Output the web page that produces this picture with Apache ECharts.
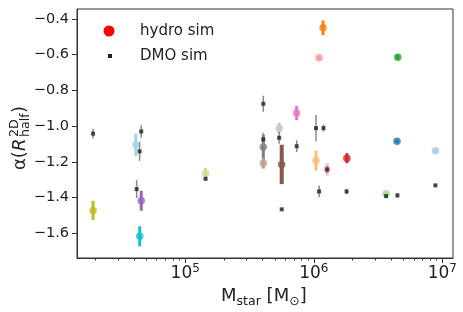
<!DOCTYPE html>
<html>
<head>
<meta charset="utf-8">
<script src="https://cdn.jsdelivr.net/npm/echarts@6/dist/echarts.min.js"></script>
<style>html,body{margin:0;padding:0;background:#fff}#c{width:463px;height:312px}</style>
</head>
<body>
<div id="c"></div>
<script>
// ---------- DATA ----------
// hydro sim: stellar mass [Msun], alpha, error
var hydroMass  = [1.92e4, 4.13e4, 4.55e4, 4.43e4, 1.44e5, 4.05e5, 4.05e5, 5.38e5, 5.63e5, 7.36e5, 1.04e6, 1.27e6, 1.81e6, 1.18e6, 1.10e6, 4.50e6, 4.44e6, 8.83e6, 3.65e6];
var hydroAlpha = [-1.471, -1.104, -1.417, -1.616, -1.263, -1.117, -1.207, -1.011, -1.214, -0.927, -1.192, -1.242, -1.179, -0.450, -0.618, -0.615, -1.085, -1.137, -1.378];
var hydroErr   = [0.054, 0.063, 0.056, 0.056, 0.030, 0.070, 0.030, 0.030, 0.110, 0.040, 0.056, 0.034, 0.028, 0.041, 0.010, 0.012, 0.008, 0.008, 0.008];
// DMO sim
var dmoMass  = [1.92e4, 4.55e4, 4.42e4, 4.19e4, 1.44e5, 4.05e5, 4.05e5, 5.38e5, 7.36e5, 5.63e5, 1.04e6, 1.19e6, 1.27e6, 1.10e6, 1.80e6, 3.65e6, 4.47e6, 8.83e6];
var dmoAlpha = [-1.042, -1.030, -1.141, -1.352, -1.294, -0.875, -1.074, -1.065, -1.112, -1.465, -1.011, -1.011, -1.242, -1.365, -1.365, -1.391, -1.387, -1.331];
var dmoErr   = [0.027, 0.035, 0.053, 0.050, 0.010, 0.045, 0.037, 0.033, 0.033, 0.005, 0.073, 0.020, 0.020, 0.033, 0.015, 0.010, 0.012, 0.008];
// axis ticks
var xMajorExp = [5, 6, 7];
var yTicks = [-1.6, -1.4, -1.2, -1.0, -0.8, -0.6, -0.4];
var legendNames = ['hydro sim', 'DMO sim'];

// ---------- STYLE ----------
var hydroColors = ['#bcbd22','#9edae5','#9467bd','#17becf','#dbdb8d','#7f7f7f','#c49c94','#c7c7c7','#8c564b','#e377c2','#ffbb78','#f7b6d2','#d62728','#ff7f0e','#ff9896','#2ca02c','#1f77b4','#aec7e8','#98df8a'];
var hydroBarWidth = [3,3,3,3,3,3,3,3,4,3,3,3,3,3,3,3,3,3,3];
var FONT = 'DejaVu Sans';
var X_MIN = Math.log10(1.44e4), X_MAX = Math.log10(1.21e7);
var Y_MIN = -1.737, Y_MAX = -0.345;

var minorVals = [];
for (var e = 4; e <= 7; e++) for (var k = 2; k <= 9; k++) {
  var lv = e + Math.log10(k);
  if (lv > X_MIN && lv < X_MAX) minorVals.push(lv);
}

var hydroPts = hydroMass.map(function (m, i) {
  return { value: [Math.log10(m), hydroAlpha[i]], itemStyle: { color: hydroColors[i] } };
});
var hydroBars = hydroMass.map(function (m, i) {
  return [Math.log10(m), hydroAlpha[i] - hydroErr[i], hydroAlpha[i] + hydroErr[i], i];
});
var dmoPts = dmoMass.map(function (m, i) { return [Math.log10(m), dmoAlpha[i]]; });
var dmoBars = dmoMass.map(function (m, i) {
  return [Math.log10(m), dmoAlpha[i] - dmoErr[i], dmoAlpha[i] + dmoErr[i]];
});

function barRender(colorFn, widthFn) {
  return function (params, api) {
    var x = api.value(0);
    var p1 = api.coord([x, api.value(1)]);
    var p2 = api.coord([x, api.value(2)]);
    var i = params.dataIndex;
    return { type: 'line', shape: { x1: p1[0], y1: p1[1], x2: p2[0], y2: p2[1] },
             style: { stroke: colorFn(i), lineWidth: widthFn(i) } };
  };
}

var chart = echarts.init(document.getElementById('c'), null, { renderer: 'canvas' });
var axisColor = '#333';
var option = {
  animation: false,
  grid: { left: 77, right: 10, top: 9, bottom: 54, show: true, borderColor: axisColor, borderWidth: 1 },
  xAxis: [{
    type: 'value', min: X_MIN, max: X_MAX,
    axisLine: { lineStyle: { color: axisColor, width: 1 } },
    splitLine: { show: false },
    axisTick: { customValues: xMajorExp, length: 5, lineStyle: { color: axisColor } },
    axisLabel: {
      customValues: xMajorExp, margin: 5,
      formatter: function (v) { return '{b|10}{s|' + Math.round(v) + '}'; },
      rich: {
        b: { fontSize: 17, fontFamily: FONT, color: '#222', padding: [5, 0, 0, 0], lineHeight: 17 },
        s: { fontSize: 12, fontFamily: FONT, color: '#222', verticalAlign: 'top', lineHeight: 12 }
      }
    }
  }, {
    type: 'value', min: X_MIN, max: X_MAX, position: 'bottom',
    axisLine: { show: false }, splitLine: { show: false },
    axisTick: { customValues: minorVals, length: 2.5, lineStyle: { color: axisColor } },
    axisLabel: { show: false }
  }],
  yAxis: {
    type: 'value', min: Y_MIN, max: Y_MAX,
    axisLine: { show: true, lineStyle: { color: axisColor, width: 1 } },
    splitLine: { show: false },
    axisTick: { show: true, customValues: yTicks, length: 5, lineStyle: { color: axisColor } },
    axisLabel: {
      customValues: yTicks, margin: 8, fontSize: 14.5, fontFamily: FONT, color: '#222',
      formatter: function (v) { return (v < 0 ? '\u2212' : '') + Math.abs(v).toFixed(1); }
    }
  },
  series: [
    { type: 'custom', name: legendNames[0] + ' err', xAxisIndex: 0, data: hydroBars, encode: { x: 0, y: [1, 2] }, z: 2,
      renderItem: barRender(function (i) { return hydroColors[hydroBars[i][3]]; }, function (i) { return hydroBarWidth[i]; }) },
    { type: 'scatter', name: legendNames[0], data: hydroPts, symbol: 'circle', symbolSize: 7.5, z: 3 },
    { type: 'custom', name: legendNames[1] + ' err', data: dmoBars, encode: { x: 0, y: [1, 2] }, z: 4,
      renderItem: barRender(function () { return '#8a8a8a'; }, function () { return 1.5; }) },
    { type: 'scatter', name: legendNames[1], data: dmoPts, symbol: 'rect', symbolSize: 4, itemStyle: { color: '#222' }, z: 5 }
  ],
  graphic: [
    { type: 'circle', shape: { cx: 109, cy: 31, r: 5.5 }, style: { fill: '#ff0000' } },
    { type: 'rect', shape: { x: 108, y: 54, width: 4, height: 4 }, style: { fill: '#222' } },
    { type: 'text', x: 140, y: 31, style: { text: legendNames[0], font: '15px "DejaVu Sans"', fill: '#222', verticalAlign: 'middle', align: 'left' } },
    { type: 'text', x: 140, y: 56, style: { text: legendNames[1], font: '15px "DejaVu Sans"', fill: '#222', verticalAlign: 'middle', align: 'left' } },
    // x-axis title: M_star [M_sun]
    { type: 'group', x: 221, y: 0, children: [
      { type: 'text', x: 0, y: 296, style: { text: 'M', font: '18px "DejaVu Sans"', fill: '#222', verticalAlign: 'middle' } },
      { type: 'text', x: 15.5, y: 301.5, style: { text: 'star', font: '12.6px "DejaVu Sans"', fill: '#222', verticalAlign: 'middle' } },
      { type: 'text', x: 39.9, y: 296, style: { text: ' [M', font: '18px "DejaVu Sans"', fill: '#222', verticalAlign: 'middle' } },
      { type: 'text', x: 68.2, y: 301.5, style: { text: '\u2299', font: '12.6px "DejaVu Sans"', fill: '#222', verticalAlign: 'middle' } },
      { type: 'text', x: 78.8, y: 296, style: { text: ']', font: '18px "DejaVu Sans"', fill: '#222', verticalAlign: 'middle' } }
    ] },
    // y-axis title: alpha(R^{2D}_{half})
    { type: 'group', x: 27, y: 170, rotation: Math.PI / 2, children: [
      { type: 'text', x: 0, y: -6.5, style: { text: '\u03b1(', font: '18px "DejaVu Sans"', fill: '#222', verticalAlign: 'middle' } },
      { type: 'text', x: 19, y: -6.5, style: { text: 'R', font: 'italic 18px "DejaVu Sans"', fill: '#222', verticalAlign: 'middle' } },
      { type: 'text', x: 33, y: -12.5, style: { text: '2D', font: '12.6px "DejaVu Sans"', fill: '#222', verticalAlign: 'middle' } },
      { type: 'text', x: 33, y: -1, style: { text: 'half', font: '12.6px "DejaVu Sans"', fill: '#222', verticalAlign: 'middle' } },
      { type: 'text', x: 57, y: -6.5, style: { text: ')', font: '18px "DejaVu Sans"', fill: '#222', verticalAlign: 'middle' } }
    ] }
  ]
};
chart.setOption(option);
</script>
</body>
</html>
